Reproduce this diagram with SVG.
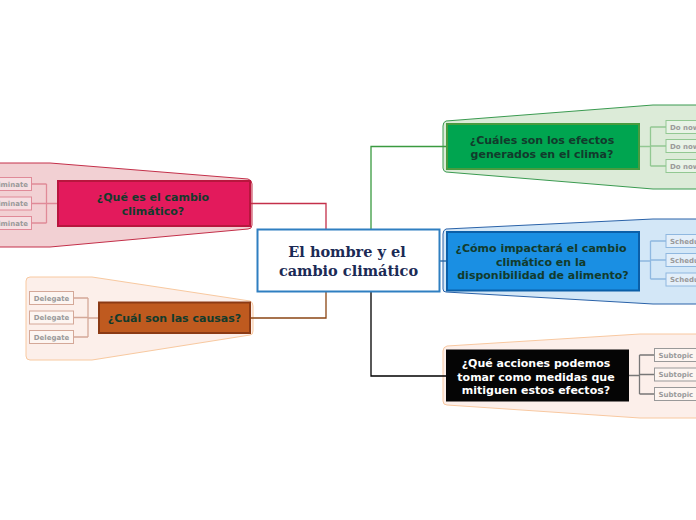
<svg xmlns="http://www.w3.org/2000/svg" width="696" height="520" viewBox="0 0 696 520">
<style>
.nt{font-family:"DejaVu Sans",Verdana,sans-serif;font-weight:bold;font-size:11px;fill:#123b2c;text-anchor:middle}
.st{font-family:"DejaVu Sans",Verdana,sans-serif;font-weight:bold;font-size:7px;fill:#9a9a9a;text-anchor:middle}
.ct{font-family:"DejaVu Serif","Liberation Serif",serif;font-weight:bold;font-size:14.5px;fill:#1b2a55;text-anchor:middle}
.c{fill:none;stroke-width:1.3}
</style>
<rect width="696" height="520" fill="#ffffff"/>
<!-- boundaries -->
<g id="boundaries">
<path d="M-5,163 L50,163 L248,179 Q252,180 252,184 L252,225 Q252,229 248,229 L50,247 L-5,247 Z" fill="#f2d0d3" stroke="#c4304a" stroke-width="1"/>
<path d="M30,277 L92,277 L250,301 Q253,302 253,306 L253,331 Q253,335 250,335 L92,360 L30,360 Q26,360 26,356 L26,281 Q26,277 30,277 Z" fill="#fcefea" stroke="#f8c9a0" stroke-width="1"/>
<path d="M701,105 L653,105 L446,121 Q443,122 443,126 L443,168 Q443,171 446,172 L653,189 L701,189 Z" fill="#dcebd8" stroke="#3a9a50" stroke-width="1"/>
<path d="M701,219 L653,219 L446,229 Q443,230 443,234 L443,289 Q443,292 446,292 L653,304 L701,304 Z" fill="#d3e7f7" stroke="#2a62a8" stroke-width="1"/>
<path d="M701,334 L640,334 L447,346 Q443,347 443,351 L443,401 Q443,405 447,405 L640,418 L701,418 Z" fill="#fcefea" stroke="#f8c8a0" stroke-width="1"/>
</g>
<!-- connectors -->
<g id="connectors">
<path class="c" d="M251,203.5 H326 V229" stroke="#c4304a"/>
<path class="c" d="M250,318 H326 V292" stroke="#8b4513"/>
<path class="c" d="M371,229 V146.5 H447" stroke="#3a9a40"/>
<path class="c" d="M440,261 H447" stroke="#2060a0"/>
<path class="c" d="M371,292 V376 H446" stroke="#000000"/>
<path class="c" d="M58,203.5 H46.5 M46.5,184 V223 M31,184 H46.5 M31,203.5 H46.5 M31,223 H46.5" stroke="#e08a98" stroke-width="1"/>
<path class="c" d="M99,318 H88 M88,298 V337 M73,298 H88 M73,317.5 H88 M73,337 H88" stroke="#d4a898" stroke-width="1"/>
<path class="c" d="M639,146.5 H650.5 M650.5,127 V166 M650.5,127 H666 M650.5,146 H666 M650.5,166 H666" stroke="#92c892" stroke-width="1"/>
<path class="c" d="M640,261 H650.5 M650.5,241 V279 M650.5,241 H666 M650.5,260 H666 M650.5,279 H666" stroke="#8fb8e0" stroke-width="1"/>
<path class="c" d="M629,375.5 H639.5 M639.5,355 V394 M639.5,355 H654 M639.5,374.5 H654 M639.5,394 H654" stroke="#777777" stroke-width="1"/>
</g>
<!-- center -->
<g id="center">
<rect x="257.5" y="229.5" width="182" height="62" fill="#ffffff" stroke="#2f7fc1" stroke-width="2"/>
<text class="ct" x="347" y="257">El hombre y el</text>
<text class="ct" x="348.5" y="275.5">cambio climático</text>
</g>
<!-- red -->
<g id="n-que-es">
<rect x="58" y="181" width="192" height="45" fill="#e31a5c" stroke="#b8163e" stroke-width="2"/>
<text class="nt" x="153" y="201">¿Qué es el cambio</text>
<text class="nt" x="153" y="215">climático?</text>
</g>
<g id="n-red-s1"><rect x="-12.5" y="177.5" width="44" height="13" fill="#f6dfe2" stroke="#e08a98"/><text class="st" x="9.5" y="186.5">Eliminate</text></g>
<g id="n-red-s2"><rect x="-12.5" y="197" width="44" height="13" fill="#f6dfe2" stroke="#e08a98"/><text class="st" x="9.5" y="206">Eliminate</text></g>
<g id="n-red-s3"><rect x="-12.5" y="216.5" width="44" height="13" fill="#f6dfe2" stroke="#e08a98"/><text class="st" x="9.5" y="225.5">Eliminate</text></g>
<!-- orange -->
<g id="n-causas">
<rect x="99" y="302.5" width="151" height="30.5" fill="#bf5a1f" stroke="#8b3a14" stroke-width="2"/>
<text class="nt" x="174.5" y="322">¿Cuál son las causas?</text>
</g>
<g id="n-or-s1"><rect x="29.5" y="291.5" width="44" height="13" fill="#fdf5f1" stroke="#d4a898"/><text class="st" x="51.5" y="300.5">Delegate</text></g>
<g id="n-or-s2"><rect x="29.5" y="311" width="44" height="13" fill="#fdf5f1" stroke="#d4a898"/><text class="st" x="51.5" y="320">Delegate</text></g>
<g id="n-or-s3"><rect x="29.5" y="330.5" width="44" height="13" fill="#fdf5f1" stroke="#d4a898"/><text class="st" x="51.5" y="339.5">Delegate</text></g>
<!-- green -->
<g id="n-efectos">
<rect x="447" y="124" width="192" height="45" fill="#00a550" stroke="#4a9b3f" stroke-width="2"/>
<text class="nt" x="542" y="144">¿Cuáles son los efectos</text>
<text class="nt" x="542" y="157.5">generados en el clima?</text>
</g>
<g id="n-gr-s1"><rect x="666" y="120.5" width="50" height="13" fill="#e8f3e6" stroke="#92c892"/><text class="st" x="670" y="129.5" style="text-anchor:start">Do now</text></g>
<g id="n-gr-s2"><rect x="666" y="139.5" width="50" height="13" fill="#e8f3e6" stroke="#92c892"/><text class="st" x="670" y="148.5" style="text-anchor:start">Do now</text></g>
<g id="n-gr-s3"><rect x="666" y="159.5" width="50" height="13" fill="#e8f3e6" stroke="#92c892"/><text class="st" x="670" y="168.5" style="text-anchor:start">Do now</text></g>
<!-- blue -->
<g id="n-impacto">
<rect x="447" y="232" width="192" height="58.5" fill="#1a8fe3" stroke="#0b5fa8" stroke-width="2"/>
<text class="nt" x="541" y="252">¿Cómo impactará el cambio</text>
<text class="nt" x="541" y="265.5">climático en la</text>
<text class="nt" x="543" y="279">disponibilidad de alimento?</text>
</g>
<g id="n-bl-s1"><rect x="666" y="234.5" width="60" height="13" fill="#e3effa" stroke="#8fb8e0"/><text class="st" x="670" y="243.5" style="text-anchor:start">Schedule</text></g>
<g id="n-bl-s2"><rect x="666" y="253.5" width="60" height="13" fill="#e3effa" stroke="#8fb8e0"/><text class="st" x="670" y="262.5" style="text-anchor:start">Schedule</text></g>
<g id="n-bl-s3"><rect x="666" y="273" width="60" height="13" fill="#e3effa" stroke="#8fb8e0"/><text class="st" x="670" y="282" style="text-anchor:start">Schedule</text></g>
<!-- black -->
<g id="n-acciones">
<rect x="446" y="349.5" width="183" height="52" fill="#050505"/>
<text class="nt" x="536" y="367" style="fill:#ffffff">¿Qué acciones podemos</text>
<text class="nt" x="536" y="380.5" style="fill:#ffffff">tomar como medidas que</text>
<text class="nt" x="536" y="394" style="fill:#ffffff">mitiguen estos efectos?</text>
</g>
<g id="n-bk-s1"><rect x="654.5" y="348.5" width="60" height="13" fill="#fdf5f1" stroke="#999999"/><text class="st" x="658.5" y="357.5" style="text-anchor:start">Subtopic</text></g>
<g id="n-bk-s2"><rect x="654.5" y="368" width="60" height="13" fill="#fdf5f1" stroke="#999999"/><text class="st" x="658.5" y="377" style="text-anchor:start">Subtopic</text></g>
<g id="n-bk-s3"><rect x="654.5" y="387.5" width="60" height="13" fill="#fdf5f1" stroke="#999999"/><text class="st" x="658.5" y="396.5" style="text-anchor:start">Subtopic</text></g>
</svg>
